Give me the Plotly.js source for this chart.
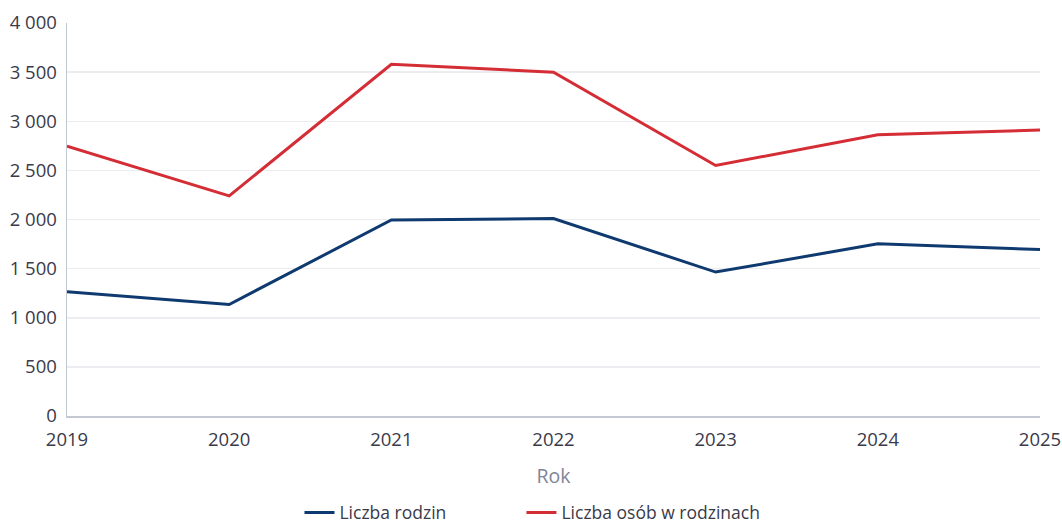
<!DOCTYPE html>
<html>
<head>
<meta charset="utf-8">
<script src="https://cdn.plot.ly/plotly-3.0.1.min.js"></script>
<style>
  html, body { margin: 0; padding: 0; background: #fff; }
  #chart { width: 1062px; height: 524px; }
</style>
</head>
<body>
<div id="chart"></div>
<script>
// Years and series values
const years = [2019, 2020, 2021, 2022, 2023, 2024, 2025];
const rodziny = [1265, 1135, 1995, 2010, 1465, 1752, 1695];
const osoby = [2745, 2240, 3580, 3500, 2550, 2862, 2910];

const tickVals = [0, 500, 1000, 1500, 2000, 2500, 3000, 3500, 4000];
const tickText = ['0', '500', '1 000', '1 500', '2 000', '2 500', '3 000', '3 500', '4 000'];

const data = [
  {
    x: years,
    y: rodziny,
    type: 'scatter',
    mode: 'lines',
    name: 'Liczba rodzin',
    legend: 'legend',
    line: { color: '#0f3a70', width: 3 },
  },
  {
    x: years,
    y: osoby,
    type: 'scatter',
    mode: 'lines',
    name: 'Liczba osób w rodzinach',
    legend: 'legend2',
    line: { color: '#d42d35', width: 3 },
  },
];

// both legends share the same look, placed side by side under the axis
const legendStyle = {
  orientation: 'h',
  xref: 'container',
  yref: 'container',
  xanchor: 'left',
  y: 0.056,
  yanchor: 'top',
  font: { size: 17.5, color: '#3a3a4a' },
  itemwidth: 30,
};

const layout = {
  width: 1062,
  height: 524,
  margin: { l: 67, r: 22, t: 23, b: 108 },
  paper_bgcolor: '#fff',
  plot_bgcolor: '#fff',
  font: { family: 'Open Sans, sans-serif', size: 18, color: '#4a4a5a' },
  showlegend: true,
  legend: Object.assign({}, legendStyle, { x: 0.282 }),
  legend2: Object.assign({}, legendStyle, { x: 0.491 }),
  xaxis: {
    range: [2019, 2025],
    tickvals: years,
    ticktext: years.map(String),
    showgrid: false,
    showline: true,
    linecolor: '#c4c7d4',
    linewidth: 1.5,
    ticks: '',
    zeroline: false,
    ticklabelstandoff: 6,
    tickfont: { size: 18.5, color: '#3a3a4a' },
    title: { text: 'Rok', font: { size: 19.5, color: '#7f849a' }, standoff: 19 },
  },
  yaxis: {
    range: [0, 4000],
    tickvals: tickVals,
    ticktext: tickText,
    showgrid: true,
    gridcolor: '#ececf1',
    gridwidth: 1.5,
    showline: true,
    linecolor: '#c4c7d4',
    linewidth: 1.5,
    zeroline: false,
    ticks: '',
    ticklabelstandoff: 5,
    tickfont: { size: 18.5, color: '#3a3a4a' },
  },
};

Plotly.newPlot('chart', data, layout, { displayModeBar: false, staticPlot: true });
</script>
</body>
</html>
